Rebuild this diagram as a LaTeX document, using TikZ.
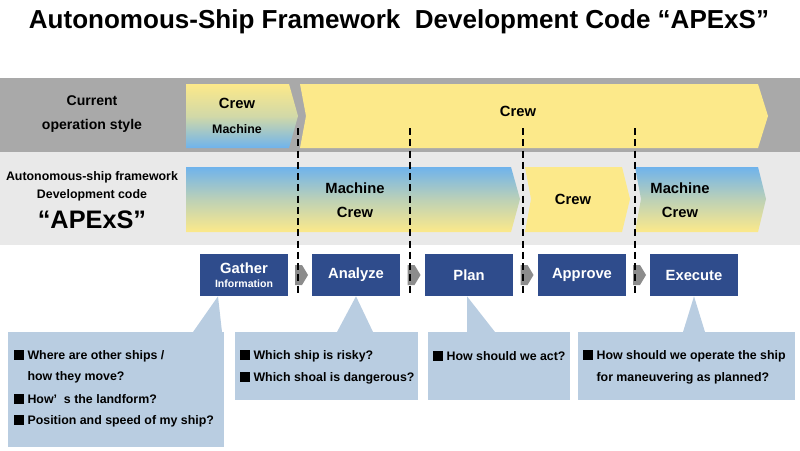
\documentclass[tikz,border=0pt]{standalone}
\usepackage{fontspec}
\setmainfont{Liberation Sans}
\usetikzlibrary{positioning}
\definecolor{bandDark}{HTML}{A9A9A9}
\definecolor{bandLight}{HTML}{E9E9E9}
\definecolor{crewYel}{HTML}{FCE98A}
\definecolor{machBlue}{HTML}{6FB3EC}
\definecolor{stepBlue}{HTML}{2F4C8C}
\definecolor{noteBlue}{HTML}{B9CDE1}
\tikzset{
  lbl/.style={font=\bfseries\fontsize{10.5}{12}\selectfont, inner sep=0pt},
  side/.style={font=\bfseries\fontsize{10}{11}\selectfont, inner sep=0pt, align=center},
  stepbox/.style={fill=stepBlue, text=white, minimum width=2.2cm, minimum height=1.05cm, inner sep=0pt, font=\bfseries\fontsize{10.5}{11}\selectfont},
  qtext/.style={anchor=west, inner sep=0pt, font=\bfseries\fontsize{8.8}{10}\selectfont},
  sep/.style={thick, dash pattern=on 5pt off 3pt},
  chev/.style={fill=gray!90},
}
\begin{document}
\begin{tikzpicture}[x=0.025cm, y=-0.025cm]
\useasboundingbox (0,0) rectangle (800,450);
% title
\node[font=\bfseries\fontsize{18.5}{22}\selectfont, inner sep=0pt] (title) at (399,22) {Autonomous-Ship Framework\ \ Development Code “APExS”};
% bands
\fill[bandDark] (0,78) rectangle (800,152);
\fill[bandLight] (0,152) rectangle (800,245);
% current style arrows
\shade[top color=crewYel, bottom color=machBlue, middle color=crewYel!70!machBlue] (186,84) -- (289,84) -- (298,116) -- (289,148) -- (186,148) -- cycle;
\fill[crewYel] (300,84) -- (758,84) -- (768,116) -- (758,148) -- (300,148) -- (306,116) -- cycle;
% APExS arrows
\shade[top color=machBlue, bottom color=crewYel, middle color=machBlue!45!crewYel] (186,167) -- (511,167) -- (520,199) -- (511,232) -- (186,232) -- cycle;
\fill[crewYel] (525,167) -- (622,167) -- (630,199) -- (622,232) -- (525,232) -- (531,199) -- cycle;
\shade[top color=machBlue, bottom color=crewYel, middle color=machBlue!45!crewYel] (635,167) -- (758,167) -- (766,199) -- (758,232) -- (635,232) -- (641,199) -- cycle;
% texts in bands
\node[side] (cur) at (92,114) {Current\\[6pt]operation style};
\node[side, font=\bfseries\fontsize{8.8}{10}\selectfont] (fw) at (92,186) {Autonomous-ship framework\\[3pt]Development code};
\node[font=\bfseries\fontsize{18}{20}\selectfont, inner sep=0pt] (code) at (92,220) {“APExS”};
\node[lbl] (c1) at (237,103) {Crew};
\node[lbl, font=\bfseries\fontsize{8.8}{9}\selectfont] (m1) at (237,129) {Machine};
\node[lbl] (c2) at (518,111) {Crew};
\node[lbl] (m2) at (355,188) {Machine};
\node[lbl] (c3) at (355,212) {Crew};
\node[lbl] (c4) at (573,199) {Crew};
\node[lbl] (m3) at (680,188) {Machine};
\node[lbl] (c5) at (680,212) {Crew};
% steps
\node[stepbox, align=center] (gather) at (244,275) {Gather\\[-1pt]{\fontsize{7.5}{8}\selectfont Information}};
\node[stepbox] (analyze) at (356,275) {Analyze};
\node[stepbox] (plan) at (469,275) {Plan};
\node[stepbox] (approve) at (582,275) {Approve};
\node[stepbox] (execute) at (694,275) {Execute};
\foreach \a/\b in {gather/analyze, analyze/plan, plan/approve, approve/execute}{
  \path (\a.east) -- (\b.west) coordinate[pos=0.5] (mid);
  \fill[chev] ([xshift=-0.12cm, yshift=-0.25cm]mid) -- ([xshift=0.05cm, yshift=-0.25cm]mid) -- ([xshift=0.2cm]mid) -- ([xshift=0.05cm, yshift=0.25cm]mid) -- ([xshift=-0.12cm, yshift=0.25cm]mid) -- cycle;
}
% phase borders
\foreach \x in {298,410,523,635}
  \draw[sep] (\x,128) -- (\x,296);
% notes
\fill[noteBlue] (8,332) rectangle (224,447);
\fill[noteBlue] ([xshift=-0.65cm]gather.south) -- (222,332) -- (193,332) -- cycle;
\fill[noteBlue] (235,332) rectangle (418,400);
\fill[noteBlue] (analyze.south) -- (373,332) -- (337,332) -- cycle;
\fill[noteBlue] (428,332) rectangle (570,400);
\fill[noteBlue] ([xshift=-0.05cm]plan.south) -- (495,332) -- (467,332) -- cycle;
\fill[noteBlue] (578,332) rectangle (795,400);
\fill[noteBlue] (execute.south) -- (705,332) -- (683,332) -- cycle;
\node[qtext] (q1) at (14,356) {\rule{7pt}{7pt}\ Where are other ships /};
\node[qtext] (q2) at (14,377) {\phantom{\rule{7pt}{7pt}}\ how they move?};
\node[qtext] (q3) at (14,399) {\rule{7pt}{7pt}\ How’\ \ s the landform?};
\node[qtext] (q4) at (14,421) {\rule{7pt}{7pt}\ Position and speed of my ship?};
\node[qtext] (q5) at (240,356) {\rule{7pt}{7pt}\ Which ship is risky?};
\node[qtext] (q6) at (240,378) {\rule{7pt}{7pt}\ Which shoal is dangerous?};
\node[qtext] (q7) at (433,356) {\rule{7pt}{7pt}\ How should we act?};
\node[qtext] (q8) at (583,356) {\rule{7pt}{7pt}\ How should we operate the ship};
\node[qtext] (q9) at (583,378) {\phantom{\rule{7pt}{7pt}}\ for maneuvering as planned?};
\end{tikzpicture}
\end{document}
